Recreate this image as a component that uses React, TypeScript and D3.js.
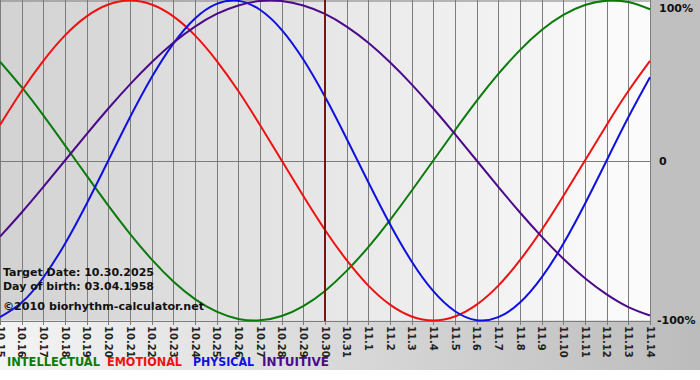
import React from "react";
import * as d3 from "d3";

const dates = [
  "10.15","10.16","10.17","10.18","10.19","10.20","10.21","10.22","10.23","10.24",
  "10.25","10.26","10.27","10.28","10.29","10.30","10.31","11.1","11.2","11.3",
  "11.4","11.5","11.6","11.7","11.8","11.9","11.10","11.11","11.12","11.13","11.14",
];

const intellectual = [
  0.618, 0.458, 0.282, 0.095, -0.095, -0.282, -0.458, -0.618, -0.756, -0.866,
  -0.945, -0.990, -0.999, -0.972, -0.910, -0.815, -0.690, -0.541, -0.372, -0.189,
  0, 0.189, 0.372, 0.541, 0.690, 0.815, 0.910, 0.972, 0.999, 0.990, 0.945,
];
const emotional = [
  0.222, 0.434, 0.623, 0.782, 0.901, 0.975, 1, 0.975, 0.901, 0.782,
  0.623, 0.434, 0.222, 0, -0.222, -0.434, -0.623, -0.782, -0.901, -0.975,
  -1, -0.975, -0.901, -0.782, -0.623, -0.434, -0.222, 0, 0.222, 0.434, 0.623,
];
const physical = [
  -0.979, -0.888, -0.731, -0.520, -0.270, 0, 0.270, 0.520, 0.731, 0.888,
  0.979, 0.998, 0.942, 0.817, 0.631, 0.398, 0.136, -0.136, -0.398, -0.631,
  -0.817, -0.942, -0.998, -0.979, -0.888, -0.731, -0.520, -0.270, 0, 0.270, 0.520,
];
const intuitive = [
  -0.476, -0.325, -0.165, 0, 0.165, 0.325, 0.476, 0.614, 0.736, 0.837,
  0.916, 0.969, 0.997, 0.997, 0.969, 0.916, 0.837, 0.736, 0.614, 0.476,
  0.325, 0.165, 0, -0.165, -0.325, -0.476, -0.614, -0.736, -0.837, -0.916, -0.969,
];

const seriesNames = ["INTELLECTUAL", "EMOTIONAL", "PHYSICAL", "INTUITIVE"];
const seriesColors = ["#0a7a0a", "#ee1111", "#1010e0", "#4b0a8a"];
const yTicks = [1, 0, -1];
const yTickLabels = ["100%", "0", "-100%"];
const targetIndex = 15;
const infoLines = ["Target Date: 10.30.2025", "Day of birth: 03.04.1958", "\u00a92010 biorhythm-calculator.net"];

export default function App() {
  const W = 700, H = 380;
  const plotL = 0, plotR = 650, plotT = 0.5, plotB = 320.5;
  const x = d3.scaleLinear().domain([0, dates.length - 1]).range([plotL, plotR]);
  const y = d3.scaleLinear().domain([-1, 1]).range([320.5, 0.5]);
  const allSeries = [intellectual, emotional, physical, intuitive];
  const line = d3.line<number>().x((_, i) => x(i)).y((v) => y(v)).curve(d3.curveNatural);
  const font = "Tahoma, 'DejaVu Sans', Verdana, sans-serif";
  const legendX = [7, 107, 193, 262];
  const legendW = [93, 75, 61, 67];
  const infoY = [276, 290, 310];
  const infoW = [151, 151, 201];

  return (
    <svg width={W} height={H} style={{ position: "fixed", left: 0, top: 0, background: "#fff" }}>
      <defs>
        <linearGradient id="bgGrad" x1="0" x2="1" y1="0" y2="0">
          <stop offset="0" stopColor="#f4f4f4" />
          <stop offset="1" stopColor="#bcbcbc" />
        </linearGradient>
        <linearGradient id="plotGrad" x1="0" x2="1" y1="0" y2="0">
          <stop offset="0" stopColor="#d2d2d2" />
          <stop offset="1" stopColor="#fcfcfc" />
        </linearGradient>
      </defs>
      <rect x={0} y={0} width={W} height={370} fill="url(#bgGrad)" />
      <rect x={650} y={0} width={50} height={321} fill="#c0c0c0" />
      <rect x={plotL} y={0} width={plotR - plotL} height={plotB} fill="url(#plotGrad)" />
      {/* vertical gridlines + ticks */}
      {dates.map((d, i) => (
        <line key={"g" + i} x1={Math.round(x(i)) + 0.5} x2={Math.round(x(i)) + 0.5} y1={0} y2={325}
          stroke="#7c7c7c" strokeWidth={1} />
      ))}
      {/* horizontal lines */}
      {yTicks.map((t, i) => (
        <line key={"h" + i} x1={plotL} x2={plotR + 1} y1={Math.round(y(t)) + 0.5 - (t === 1 ? 0.5 : 0)} y2={Math.round(y(t)) + 0.5 - (t === 1 ? 0.5 : 0)}
          stroke="#7c7c7c" strokeWidth={1} />
      ))}
      {/* series */}
      {allSeries.map((s, k) => (
        <path key={"s" + k} d={line(s) || ""} fill="none" stroke={seriesColors[k]} strokeWidth={2} />
      ))}
      {/* target line */}
      <line x1={x(targetIndex)} x2={x(targetIndex)} y1={0} y2={321} stroke="#7a1414" strokeWidth={2} />
      {/* date labels */}
      {dates.map((d, i) => (
        <text key={"t" + i} transform={`translate(${x(i)},326) rotate(90)`} dy="0.35em"
          fontFamily={font} fontSize={10} fontWeight="bold" fill="#222">{d}</text>
      ))}
      {/* y labels */}
      {yTicks.map((t, i) => (
        <text key={"yl" + i} x={i === 2 ? 657 : 659} y={y(t) + 4 + (i === 0 ? 7 : 0) - (i === 2 ? 1 : 0)}
          fontFamily={font} fontSize={11} fontWeight="bold" fill="#111">{yTickLabels[i]}</text>
      ))}
      {/* info text */}
      {infoLines.map((s, i) => (
        <text key={"i" + i} x={3} y={infoY[i]} textLength={infoW[i]} lengthAdjust="spacingAndGlyphs"
          fontFamily={font} fontSize={11} fontWeight="bold" fill="#111">{s}</text>
      ))}
      {/* legend */}
      {seriesNames.map((n, k) => (
        <text key={"l" + k} x={legendX[k]} y={366} textLength={legendW[k]} lengthAdjust="spacingAndGlyphs"
          fontFamily={font} fontSize={12} fontWeight="bold" fill={seriesColors[k]}>{n}</text>
      ))}
    </svg>
  );
}
